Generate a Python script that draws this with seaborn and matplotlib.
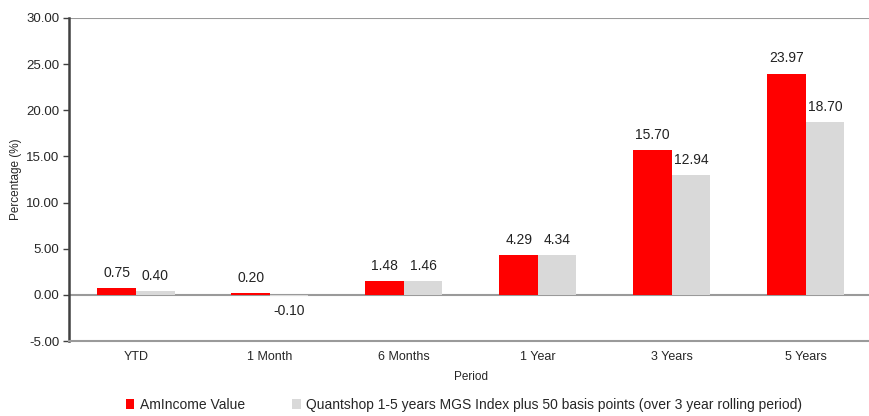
import pandas as pd
import matplotlib
matplotlib.use("Agg")
import matplotlib.pyplot as plt
import seaborn as sns

# data
periods = ["YTD", "1 Month", "6 Months", "1 Year", "3 Years", "5 Years"]
fund_values = [0.75, 0.20, 1.48, 4.29, 15.70, 23.97]
bench_values = [0.40, -0.10, 1.46, 4.34, 12.94, 18.70]
series_names = ["AmIncome Value",
                "Quantshop 1-5 years MGS Index plus 50 basis points (over 3 year rolling period)"]

df = pd.DataFrame({
    "Period": periods * 2,
    "Value": fund_values + bench_values,
    "Series": [series_names[0]] * len(periods) + [series_names[1]] * len(periods),
})

sns.set_style("white")
plt.rcParams["font.family"] = ["Liberation Sans", "DejaVu Sans"]

fig = plt.figure(figsize=(8.69, 4.16), dpi=100)
ax = fig.add_axes([0.0794, 0.180, 0.925, 0.777])

ax.axhline(0, color="#9a9a9a", lw=1.5, zorder=0)
ax.axhline(30, color="#9a9a9a", lw=1.5, zorder=0)

sns.barplot(data=df, x="Period", y="Value", hue="Series", order=periods,
            hue_order=series_names, palette=["#ff0000", "#d9d9d9"],
            width=0.575, saturation=1, linewidth=0, ax=ax, legend=True)

for cont in ax.containers:
    ax.bar_label(cont, fmt="%.2f", padding=6, fontsize=10, color="#222222")

ax.set_ylim(-5, 30)
ax.set_yticks([-5, 0, 5, 10, 15, 20, 25, 30])
ax.set_yticklabels([f"{v:.2f}" for v in [-5, 0, 5, 10, 15, 20, 25, 30]], fontsize=9.5)
ax.set_xlim(-0.5, len(periods) - 0.5)
ax.tick_params(axis="x", labelsize=9, length=0, pad=7)
ax.tick_params(axis="y", length=4, width=1, color="#404040", direction="out", left=True, pad=3)

for s in ["top", "right"]:
    ax.spines[s].set_visible(False)
ax.spines["left"].set_color("#404040")
ax.spines["left"].set_linewidth(1.8)
ax.spines["bottom"].set_color("#9a9a9a")
ax.spines["bottom"].set_linewidth(1.5)

ax.set_xlabel("Period", fontsize=8.5, labelpad=6)
ax.set_ylabel("Percentage (%)", fontsize=8.5, labelpad=3)

handles, labels = ax.get_legend_handles_labels()
ax.get_legend().remove()
fig.legend(handles, labels, loc="lower center", bbox_to_anchor=(0.534, -0.02),
           ncol=2, frameon=False, fontsize=10, handlelength=0.6, handleheight=0.7,
           handletextpad=0.4, columnspacing=3.4)

fig.savefig("out.png", dpi=100)
